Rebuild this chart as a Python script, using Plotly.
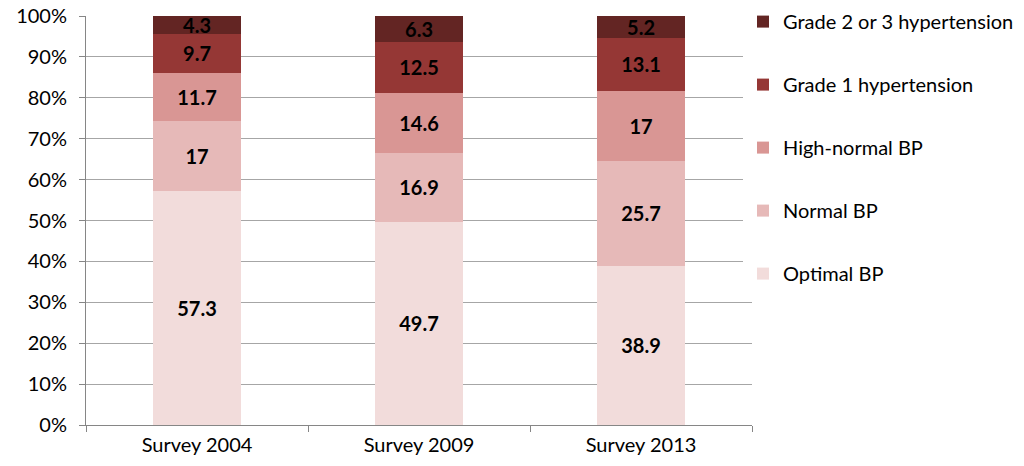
import plotly.graph_objects as go

categories = ["Survey 2004", "Survey 2009", "Survey 2013"]
series_names = ["Optimal BP", "Normal BP", "High-normal BP", "Grade 1 hypertension", "Grade 2 or 3 hypertension"]
optimal = [57.3, 49.7, 38.9]
normal = [17, 16.9, 25.7]
high_normal = [11.7, 14.6, 17]
grade1 = [9.7, 12.5, 13.1]
grade23 = [4.3, 6.3, 5.2]
y_ticks = [0, 10, 20, 30, 40, 50, 60, 70, 80, 90, 100]
y_tick_labels = [f"{t}%" for t in y_ticks]

colors = ["#F2DCDB", "#E6B9B8", "#D99694", "#953735", "#632523"]
values = [optimal, normal, high_normal, grade1, grade23]

FONT = "Lato, Open Sans, Liberation Sans, sans-serif"

fig = go.Figure()
n = len(series_names)
for i, (name, vals) in enumerate(zip(series_names, values)):
    fig.add_trace(go.Bar(
        x=categories, y=vals, name=name,
        marker=dict(color=colors[i], line=dict(width=0)),
        text=[f"<b>{v:g}</b>" for v in vals],
        textposition="inside", insidetextanchor="middle", textangle=0,
        constraintext="none",
        textfont=dict(family=FONT, size=20, color="#000000"),
        legendgroup=name,
        legendrank=n - i,
    ))

fig.update_layout(
    barmode="stack",
    bargap=0.6,
    width=1024, height=466,
    margin=dict(l=86, r=272, t=16, b=41, autoexpand=False),
    plot_bgcolor="white", paper_bgcolor="white",
    uniformtext=dict(minsize=20, mode="show"),
    font=dict(family=FONT, color="#000000"),
    legend=dict(
        traceorder="grouped", tracegroupgap=34,
        x=0.9865, xanchor="left", y=1.034, yanchor="top",
        font=dict(family=FONT, size=20, color="#000000"),
        itemwidth=30, maxheight=1,
    ),
    xaxis=dict(
        showline=True, linecolor="#868686", linewidth=1,
        ticks="outside", tickson="boundaries", ticklen=6, tickcolor="#868686",
        tickfont=dict(family=FONT, size=20, color="#000000"),
        ticklabelstandoff=2,
        showgrid=False,
    ),
    yaxis=dict(
        range=[0, 100], tickmode="array", tickvals=y_ticks, ticktext=y_tick_labels,
        showline=True, linecolor="#868686", linewidth=1,
        ticks="outside", ticklen=6, tickcolor="#868686",
        ticklabelstandoff=8, ticklabeloverflow="allow",
        showgrid=True, gridcolor="#A6A6A6", gridwidth=1,
        tickfont=dict(family=FONT, size=20, color="#000000"),
        zeroline=False,
    ),
)

fig.write_html(
    "out.html",
    config={"displayModeBar": False},
    post_script="document.body.style.margin='0';document.body.style.overflow='hidden';",
)
